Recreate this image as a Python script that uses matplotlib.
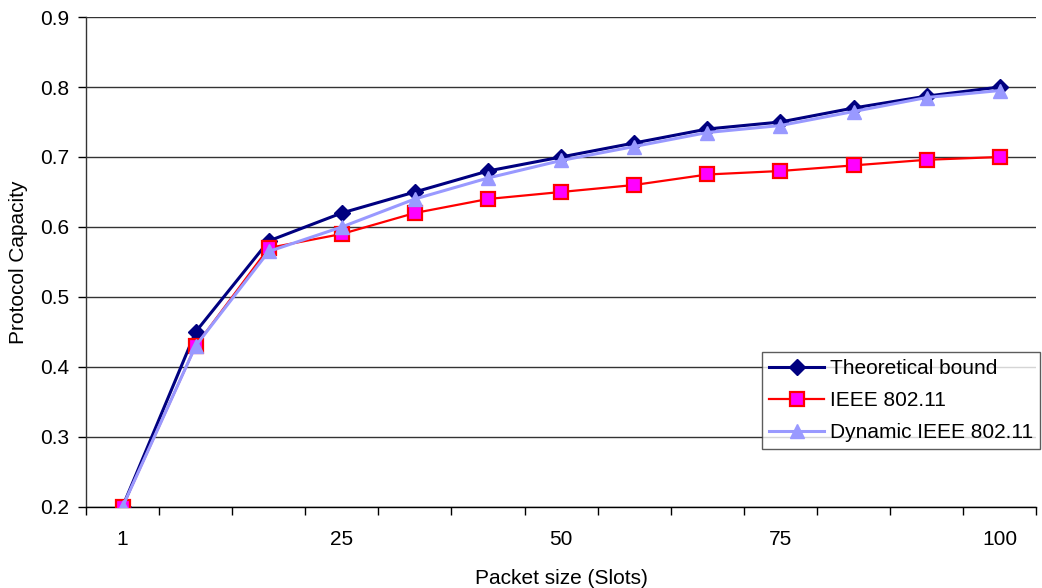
import matplotlib
matplotlib.use("Agg")
import matplotlib.pyplot as plt
import numpy as np

plt.rcParams['font.family'] = ['Liberation Sans', 'DejaVu Sans']

# packet sizes (category axis), only some are labelled
categories = ['1', '', '', '25', '', '', '50', '', '', '75', '', '', '100']
theoretical = [0.20, 0.45, 0.58, 0.62, 0.65, 0.68, 0.70, 0.72, 0.74, 0.75, 0.77, 0.787, 0.80]
ieee = [0.20, 0.43, 0.57, 0.59, 0.62, 0.64, 0.65, 0.66, 0.675, 0.68, 0.688, 0.696, 0.70]
dynamic = [0.20, 0.43, 0.565, 0.60, 0.64, 0.67, 0.695, 0.715, 0.735, 0.745, 0.765, 0.785, 0.795]
y_ticks = [0.2, 0.3, 0.4, 0.5, 0.6, 0.7, 0.8, 0.9]

fig = plt.figure(figsize=(10.42, 5.88), dpi=100)
ax = fig.add_axes([0.0825, 0.138, 0.912, 0.833])

x = np.arange(len(categories))
ax.plot(x, theoretical, color='#000080', lw=2.2, marker='D', ms=8,
        mfc='#000080', mec='#000080', label='Theoretical bound', zorder=3)
ax.plot(x, ieee, color='#FF0000', lw=1.6, marker='s', ms=10,
        mfc='#FF00FF', mec='#FF0000', mew=1.6, label='IEEE 802.11', zorder=4)
ax.plot(x, dynamic, color='#9999FF', lw=2.2, marker='^', ms=10,
        mfc='#9999FF', mec='#9999FF', label='Dynamic IEEE 802.11', zorder=5)

ax.set_xlim(-0.5, len(categories) - 0.5)
ax.set_ylim(0.2, 0.9)
ax.set_yticks(y_ticks)
ax.set_yticklabels([f'{v:.1f}' for v in y_ticks])

# labels sit on the categories, tick marks between them
lab_idx = [i for i, c in enumerate(categories) if c]
ax.set_xticks(lab_idx)
ax.set_xticklabels([categories[i] for i in lab_idx])
ax.set_xticks(np.arange(-0.5, len(categories)), minor=True)
ax.tick_params(axis='x', which='major', length=0, pad=17, labelsize=15)
ax.tick_params(axis='x', which='minor', length=6, width=1, color='#000000')
ax.tick_params(axis='y', length=6, width=1, labelsize=15, pad=6)

ax.grid(axis='y', color='#333333', lw=1)
ax.set_axisbelow(True)
for s in ['top', 'right']:
    ax.spines[s].set_visible(False)
ax.spines['left'].set_color('#333333')
ax.spines['bottom'].set_color('#000000')
ax.spines['left'].set_linewidth(1)
ax.spines['bottom'].set_linewidth(1)

ax.set_xlabel('Packet size (Slots)', fontsize=15, labelpad=14)
ax.set_ylabel('Protocol Capacity', fontsize=15, labelpad=9)

leg = ax.legend(loc='upper left', bbox_to_anchor=(0.7116, 0.316), fontsize=15,
                frameon=True, fancybox=False, edgecolor='#333333',
                handlelength=2.6, handletextpad=0.3, borderpad=0.35,
                labelspacing=0.62, borderaxespad=0)
leg.get_frame().set_linewidth(1)
leg.set_zorder(10)

fig.savefig('out.png', dpi=100, facecolor='white')
